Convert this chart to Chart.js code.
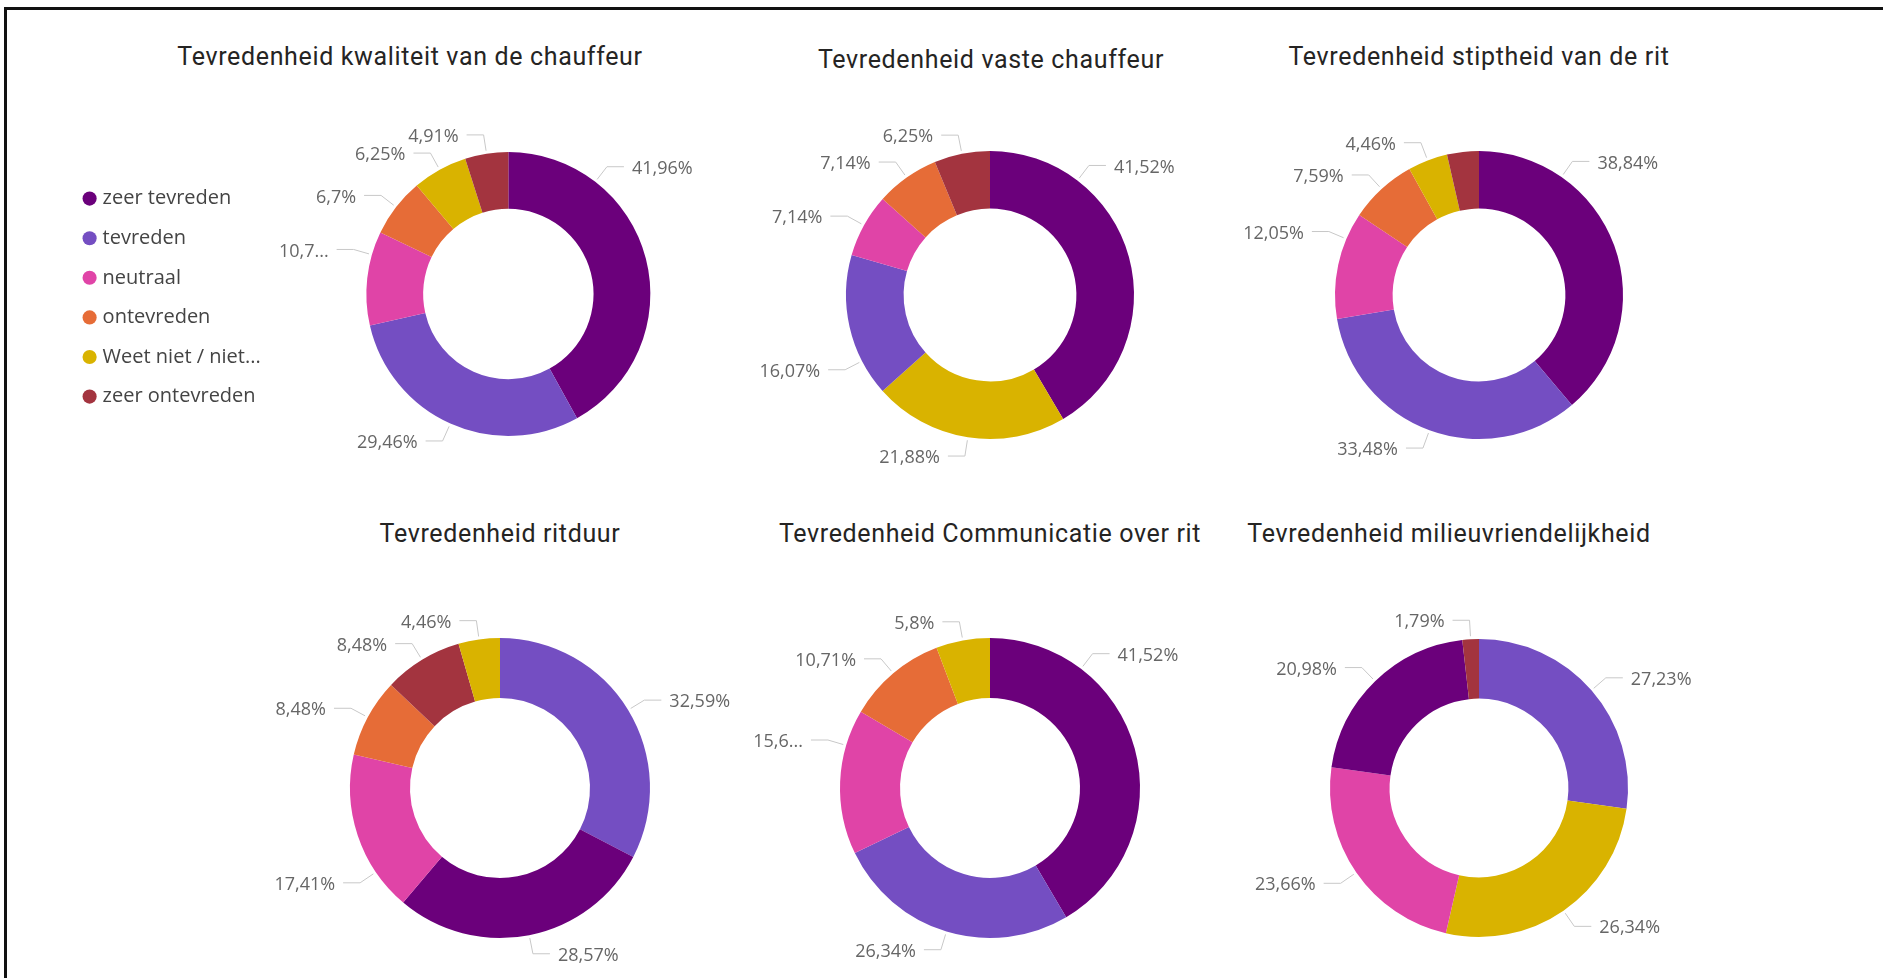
<!DOCTYPE html>
<html lang="nl">
<head>
  <meta charset="UTF-8">
  <title>Tevredenheid</title>
  <script src="https://cdn.jsdelivr.net/npm/chart.js"></script>
  <style>
    body {
      margin: 0;
      width: 1883px;
      height: 978px;
      overflow: hidden;
      position: relative;
      background: #fff;
      font-family: "Open Sans", sans-serif;
    }

    .frame {
      position: absolute;
      left: 4px;
      top: 7px;
      right: 0;
      bottom: 0;
      border-top: 3px solid #111;
      border-left: 3px solid #111;
    }

    .title {
      position: absolute;
      transform: translateX(-50%);
      white-space: nowrap;
      font-family: Roboto, sans-serif;
      font-size: 25px;
      line-height: 30px;
      letter-spacing: 0.65px;
      color: #252423;
    }

    canvas {
      position: absolute;
    }
  </style>
</head>
<body>
<div class="frame"></div>

<script>
  // categories + colours (same for every donut)
  const categories = ["zeer tevreden", "tevreden", "neutraal", "ontevreden", "Weet niet / niet...", "zeer ontevreden"];
  const colors = ["#6B007B", "#744EC2", "#E044A7", "#E66C37", "#D9B300", "#A3343F"];

  const titles = [
    "Tevredenheid kwaliteit van de chauffeur",
    "Tevredenheid vaste chauffeur",
    "Tevredenheid stiptheid van de rit",
    "Tevredenheid ritduur",
    "Tevredenheid Communicatie over rit",
    "Tevredenheid milieuvriendelijkheid"
  ];

  // percentages per category (0 = category not in the answers)
  const kwaliteit      = [41.96, 29.46, 10.71, 6.70, 6.25, 4.91];
  const vasteChauffeur = [41.52, 16.07, 7.14, 7.14, 21.88, 6.25];
  const stiptheid      = [38.84, 33.48, 12.05, 7.59, 4.46, 3.57];
  const ritduur        = [28.57, 32.59, 17.41, 8.48, 4.46, 8.48];
  const communicatie   = [41.52, 26.34, 15.63, 10.71, 5.80, 0];
  const milieu         = [20.98, 27.23, 23.66, 0, 26.34, 1.79];

  const series = [kwaliteit, vasteChauffeur, stiptheid, ritduur, communicatie, milieu];

  // where each visual sits on the page
  const panels = [
    { cx: 508,  cy: 294, r: 142, titleX: 410,  titleTop: 42, legend: true },
    { cx: 990,  cy: 295, r: 144, titleX: 991,  titleTop: 45 },
    { cx: 1479, cy: 295, r: 144, titleX: 1479, titleTop: 42 },
    { cx: 500,  cy: 788, r: 150, titleX: 500,  titleTop: 519 },
    { cx: 990,  cy: 788, r: 150, titleX: 990,  titleTop: 519 },
    { cx: 1479, cy: 788, r: 149, titleX: 1449, titleTop: 519 }
  ];

  function fmtPct(v) {
    return String(Number(v.toFixed(2))).replace(".", ",") + "%";
  }

  // labels outside the ring with a bent leader line (Power BI style)
  const leaderLabels = {
    id: "leaderLabels",
    afterDatasetsDraw(chart, args, opts) {
      const ctx = chart.ctx;
      const ds = chart.data.datasets[0];
      const arcs = chart.getDatasetMeta(0).data;

      ctx.save();
      ctx.font = opts.font;
      ctx.textBaseline = "middle";

      function layout(arc, a, text) {
        const cos = Math.cos(a), sin = Math.sin(a);
        const side = cos >= 0 ? 1 : -1;
        const r = arc.outerRadius;
        const x0 = arc.x + (r + 3) * cos, y0 = arc.y + (r + 3) * sin;
        const x1 = arc.x + (r + 19) * cos, y1 = arc.y + (r + 19) * sin;
        const x2 = x1 + side * 17;
        const tx = x2 + side * 8;
        const w = ctx.measureText(text).width;
        const far = tx + side * w;
        return {
          x0, y0, x1, y1, x2, tx, side, text,
          left: Math.min(tx, far), right: Math.max(tx, far),
          fits: Math.abs(far - arc.x) <= opts.reach
        };
      }

      const placed = [];
      const order = arcs.map((a, i) => i).sort((a, b) => ds.data[b] - ds.data[a]);

      order.forEach(i => {
        const arc = arcs[i];
        const span = arc.endAngle - arc.startAngle;
        const mid = arc.startAngle + span / 2;
        // quarter point that lies nearer to 12 or 6 o'clock
        const quarter = Math.cos(mid) * Math.sin(mid) < 0
          ? arc.startAngle + span / 4
          : arc.endAngle - span / 4;
        const tries = span > 0.72 * Math.PI ? [quarter] : [mid, quarter];

        const text = fmtPct(ds.data[i]);
        let lab, angle;
        for (angle of tries) {
          lab = layout(arc, angle, text);
          if (lab.fits) break;
        }
        if (!lab.fits) {
          let s = text;
          while (s.length > 1) {
            s = s.slice(0, -1);
            lab = layout(arc, angle, s + "...");
            if (lab.fits) break;
          }
        }

        const hit = placed.some(p => p.right > lab.left && p.left < lab.right && Math.abs(p.y1 - lab.y1) < 16);
        if (hit) return;
        placed.push(lab);

        ctx.strokeStyle = opts.lineColor;
        ctx.lineWidth = 1;
        ctx.beginPath();
        ctx.moveTo(lab.x0, lab.y0);
        ctx.lineTo(lab.x1, lab.y1);
        ctx.lineTo(lab.x2, lab.y1);
        ctx.stroke();

        ctx.fillStyle = opts.color;
        ctx.textAlign = lab.side > 0 ? "left" : "right";
        ctx.fillText(lab.text, lab.tx, lab.y1 + 2);
      });

      ctx.restore();
    }
  };

  panels.forEach((p, k) => {
    // title
    const t = document.createElement("div");
    t.className = "title";
    t.textContent = titles[k];
    t.style.left = p.titleX + "px";
    t.style.top = p.titleTop + "px";
    document.body.appendChild(t);

    // slices sorted big -> small, clockwise from the top
    const rows = categories
      .map((c, i) => ({ label: c, value: series[k][i], color: colors[i] }))
      .filter(d => d.value > 0)
      .sort((a, b) => b.value - a.value);

    const canvas = document.createElement("canvas");
    let padding;
    if (p.legend) {
      canvas.width = 686;
      canvas.height = 440;
      canvas.style.left = "60px";
      canvas.style.top = (p.cy - 220) + "px";
      padding = { left: 7, right: 0, top: 220 - p.r, bottom: 220 - p.r };
    } else {
      const halfH = p.r + 50;
      canvas.width = 500;
      canvas.height = halfH * 2;
      canvas.style.left = (p.cx - 250) + "px";
      canvas.style.top = (p.cy - halfH) + "px";
      padding = { left: 250 - p.r, right: 250 - p.r, top: 50, bottom: 50 };
    }
    document.body.appendChild(canvas);

    new Chart(canvas, {
      type: "doughnut",
      data: {
        labels: rows.map(d => d.label),
        datasets: [{
          data: rows.map(d => d.value),
          backgroundColor: rows.map(d => d.color),
          borderWidth: 0
        }]
      },
      options: {
        responsive: false,
        animation: false,
        events: [],
        cutout: "60%",
        layout: { padding: padding },
        plugins: {
          tooltip: { enabled: false },
          legend: {
            display: !!p.legend,
            position: "left",
            align: "center",
            // empty title only nudges the items a few px down
            title: { display: true, text: "", font: { size: 6, lineHeight: 1 }, padding: 0.6 },
            labels: {
              usePointStyle: true,
              pointStyle: "circle",
              boxWidth: 6,
              boxHeight: 10,
              padding: 19.6,
              color: "#444",
              font: { family: "'Open Sans', sans-serif", size: 20 }
            }
          },
          leaderLabels: {
            font: "18px 'Open Sans', sans-serif",
            color: "#666",
            lineColor: "#c8c8c8",
            reach: 238
          }
        }
      },
      plugins: [leaderLabels]
    });
  });
</script>
</body>
</html>
